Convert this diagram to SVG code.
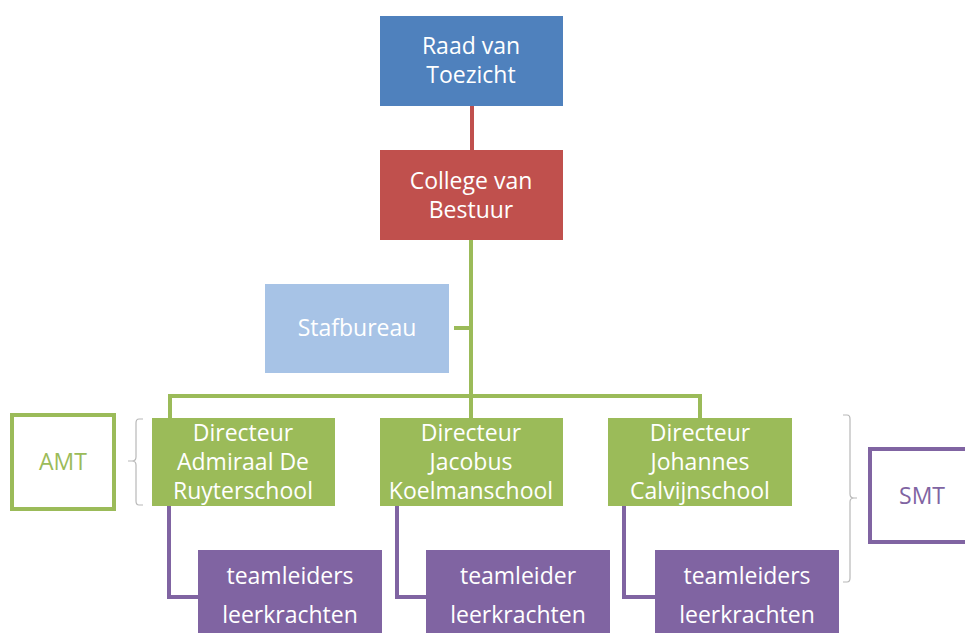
<svg xmlns="http://www.w3.org/2000/svg" width="965" height="633" viewBox="0 0 965 633">
<style>
text{font-family:"Open Sans","Liberation Sans",sans-serif;font-size:23px;text-anchor:middle;fill:#fff}
.g{fill:#9BBB59}.p{fill:#8064A2}
.gl{stroke:#9BBB59;stroke-width:4;fill:none}
.pl{stroke:#8064A2;stroke-width:4;fill:none}
.br{stroke:#B8B8B8;stroke-width:1.2;fill:none}
</style>
<rect width="965" height="633" fill="#fff"/>
<g id="connectors">
<line x1="472" y1="106" x2="472" y2="150" stroke="#C0504D" stroke-width="4"/>
<path class="gl" d="M471 240V396M454 328H471M170 396H700M170 394V418M471 396V418M700 394V418"/>
<path class="pl" d="M169 506V597H198M397 506V597H426M624 506V597H655"/>
</g>
<g id="raad"><rect x="380" y="16" width="183" height="90" fill="#4F81BD"/><text x="471" y="54">Raad van</text><text x="471" y="83">Toezicht</text></g>
<g id="college"><rect x="380" y="150" width="183" height="90" fill="#C0504D"/><text x="471" y="189">College van</text><text x="471" y="218">Bestuur</text></g>
<g id="stafbureau"><rect x="265" y="284" width="184" height="89" fill="#A7C3E6"/><text x="357" y="336">Stafbureau</text></g>
<g id="dir1"><rect x="152" y="418" width="183" height="88" fill="#9BBB59"/><text x="243" y="441">Directeur</text><text x="243" y="470">Admiraal De</text><text x="243" y="499">Ruyterschool</text></g>
<g id="dir2"><rect x="380" y="418" width="183" height="88" fill="#9BBB59"/><text x="471" y="441">Directeur</text><text x="471" y="470">Jacobus</text><text x="471" y="499">Koelmanschool</text></g>
<g id="dir3"><rect x="608" y="418" width="184" height="88" fill="#9BBB59"/><text x="700" y="441">Directeur</text><text x="700" y="470">Johannes</text><text x="700" y="499">Calvijnschool</text></g>
<g id="team1"><rect x="198" y="550" width="184" height="90" fill="#8064A2"/><text x="290" y="584">teamleiders</text><text x="290" y="623">leerkrachten</text></g>
<g id="team2"><rect x="426" y="550" width="184" height="90" fill="#8064A2"/><text x="518" y="584">teamleider</text><text x="518" y="623">leerkrachten</text></g>
<g id="team3"><rect x="655" y="550" width="184" height="90" fill="#8064A2"/><text x="747" y="584">teamleiders</text><text x="747" y="623">leerkrachten</text></g>
<g id="amt"><rect x="12" y="415" width="102" height="94" fill="#fff" stroke="#9BBB59" stroke-width="4"/><text class="g" x="63" y="470">AMT</text><path class="br" d="M143 419H139Q136 419 136 423V457Q136 461 132 461H128M132 461Q136 461 136 465V501Q136 505 139 505H143"/></g>
<g id="smt"><rect x="870" y="449" width="100" height="93" fill="#fff" stroke="#8064A2" stroke-width="4"/><text class="p" x="922" y="504">SMT</text><path class="br" d="M843 415H847Q850 415 850 419V494Q850 498 854 498H857M854 498Q850 498 850 502V578Q850 582 847 582H843"/></g>
</svg>
